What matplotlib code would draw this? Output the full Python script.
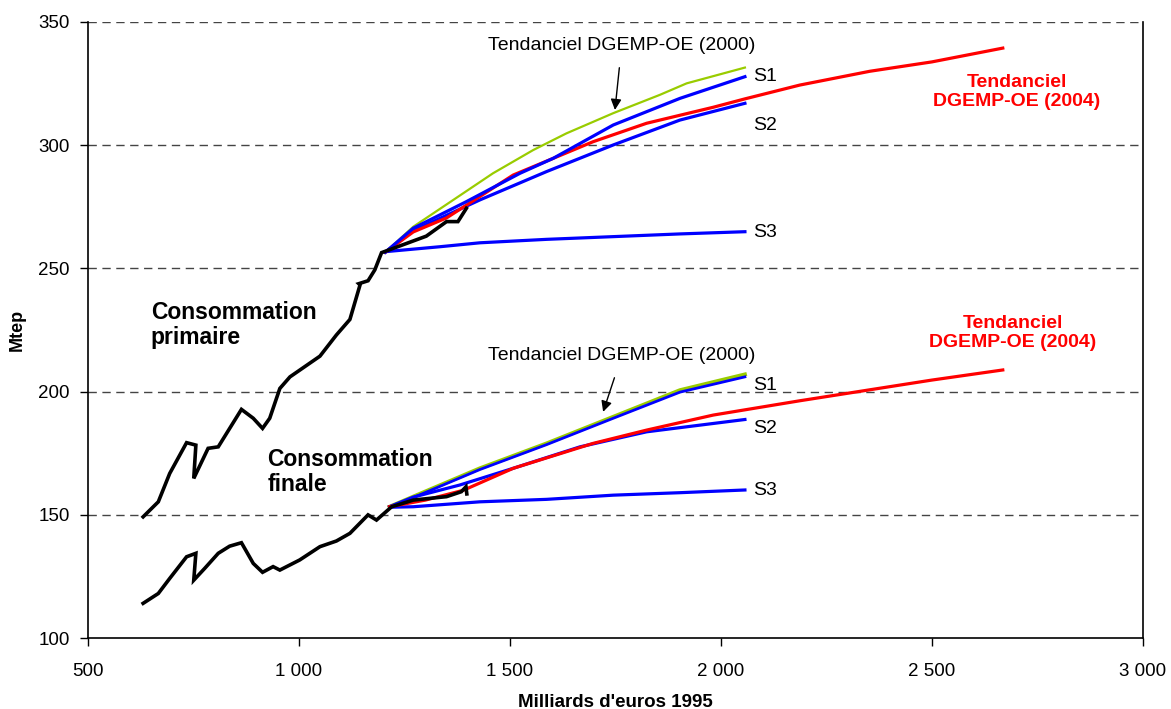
import matplotlib
matplotlib.use("Agg")
import matplotlib.pyplot as plt
from matplotlib.ticker import FuncFormatter

plt.rcParams['font.family'] = ['Liberation Sans', 'DejaVu Sans']

# historique (PIB en Md euros 1995, Mtep)
hist_prim_x = [631, 667, 694, 734, 756, 751, 785, 809, 864, 892, 914, 931, 955, 979,
               1050, 1089, 1121, 1145, 1142, 1164, 1180, 1196, 1223, 1302, 1350, 1377, 1397]
hist_prim_y = [149.2, 155.3, 166.8, 179.3, 178.3, 164.8, 177.0, 177.6, 192.8, 189.2, 185.1, 189.2,
               201.3, 206.0, 214.4, 223.0, 229.3, 243.3, 243.8, 245.0, 249.4, 256.4, 258.1,
               263.1, 269.0, 269.0, 274.4]
hist_fin_x = [631, 667, 694, 734, 756, 751, 777, 809, 836, 864, 892, 914, 939, 955, 1002,
              1050, 1089, 1121, 1164, 1184, 1220, 1271, 1350, 1385, 1396, 1398]
hist_fin_y = [114.1, 118.1, 124.2, 133.0, 134.4, 123.5, 128.3, 134.4, 137.3, 138.7, 130.3, 126.7,
              129.0, 127.6, 131.7, 137.1, 139.4, 142.5, 150.0, 147.9, 153.3, 156.0, 157.4,
              159.4, 161.4, 158.5]

# projections - consommation primaire
p_tend2000_x = [1205, 1271, 1366, 1460, 1555, 1634, 1745, 1855, 1919, 2057]
p_tend2000_y = [256.6, 266.9, 277.8, 288.6, 298.0, 304.8, 313.0, 320.4, 325.1, 331.5]
p_s1_x = [1205, 1271, 1397, 1524, 1603, 1745, 1903, 2057]
p_s1_y = [256.6, 266.3, 277.1, 288.6, 294.7, 308.2, 319.0, 327.8]
p_s2_x = [1205, 1271, 1429, 1587, 1745, 1903, 2057]
p_s2_y = [256.6, 265.3, 277.8, 289.3, 300.1, 310.2, 317.0]
p_s3_x = [1205, 1334, 1429, 1587, 1745, 1903, 2057]
p_s3_y = [256.8, 258.8, 260.4, 261.8, 262.9, 264.0, 264.9]
p_tend2004_x = [1205, 1271, 1350, 1508, 1697, 1824, 1982, 2057, 2187, 2353, 2500, 2668]
p_tend2004_y = [256.6, 264.8, 270.5, 287.9, 301.4, 308.9, 315.4, 318.8, 324.4, 330.0, 333.8, 339.4]

# projections - consommation finale
f_tend2000_x = [1215, 1271, 1429, 1587, 1745, 1903, 2057]
f_tend2000_y = [153.3, 157.4, 168.9, 179.0, 189.8, 200.6, 207.0]
f_s1_x = [1215, 1271, 1429, 1587, 1745, 1903, 2057]
f_s1_y = [153.3, 157.0, 168.4, 178.5, 189.2, 199.8, 206.0]
f_s2_x = [1215, 1271, 1381, 1508, 1666, 1824, 2057]
f_s2_y = [153.3, 157.2, 162.1, 168.9, 177.6, 183.7, 188.7]
f_s3_x = [1215, 1271, 1429, 1587, 1745, 1903, 2057]
f_s3_y = [153.1, 153.3, 155.3, 156.3, 158.0, 159.0, 160.1]
f_tend2004_x = [1215, 1300, 1390, 1508, 1697, 1824, 1982, 2187, 2500, 2668]
f_tend2004_y = [153.3, 156.0, 160.0, 168.9, 179.0, 184.4, 190.5, 196.3, 204.7, 208.8]

BLUE = '#0000ff'
RED = '#ff0000'
GREEN = '#99cc00'

fig = plt.figure(figsize=(11.71, 7.09), dpi=100)
ax = fig.add_axes([0.075, 0.1, 0.901, 0.869])

for y in [150, 200, 250, 300, 350]:
    ax.axhline(y, color='#444444', lw=1.0, ls=(0, (6, 4)), zorder=0)

ax.plot(p_tend2000_x, p_tend2000_y, color=GREEN, lw=1.6)
ax.plot(p_s3_x, p_s3_y, color=BLUE, lw=2.3)
ax.plot(p_s2_x, p_s2_y, color=BLUE, lw=2.3)
ax.plot(p_tend2004_x, p_tend2004_y, color=RED, lw=2.3)
ax.plot(p_s1_x, p_s1_y, color=BLUE, lw=2.3)

ax.plot(f_tend2000_x, f_tend2000_y, color=GREEN, lw=2.8)
ax.plot(f_s1_x, f_s1_y, color=BLUE, lw=2.0)
ax.plot(f_s3_x, f_s3_y, color=BLUE, lw=2.3)
ax.plot(f_s2_x, f_s2_y, color=BLUE, lw=2.3)
ax.plot(f_tend2004_x, f_tend2004_y, color=RED, lw=2.3)

ax.plot(hist_prim_x, hist_prim_y, color='black', lw=2.6, solid_joinstyle='miter')
ax.plot(hist_fin_x, hist_fin_y, color='black', lw=2.6, solid_joinstyle='miter')

# annotations
ax.annotate('Tendanciel DGEMP-OE (2000)', xy=(1749, 314.3), xytext=(1765, 340.5),
            ha='center', va='center', fontsize=14,
            arrowprops=dict(arrowstyle='-|>', color='black', lw=1, mutation_scale=16,
                            shrinkA=8, shrinkB=0))
ax.annotate('Tendanciel DGEMP-OE (2000)', xy=(1721, 191.8), xytext=(1765, 214.5),
            ha='center', va='center', fontsize=14,
            arrowprops=dict(arrowstyle='-|>', color='black', lw=1, mutation_scale=16,
                            shrinkA=8, shrinkB=0))

for lbl, y in [('S1', 327.7), ('S2', 307.8), ('S3', 264.4),
               ('S1', 202.3), ('S2', 185.2), ('S3', 159.7)]:
    ax.text(2076, y, lbl, fontsize=14, va='center', ha='left')

ax.text(2701, 321.6, 'Tendanciel\nDGEMP-OE (2004)', color=RED, fontsize=14,
        fontweight='bold', ha='center', va='center', linespacing=1.2)
ax.text(2692, 223.8, 'Tendanciel\nDGEMP-OE (2004)', color=RED, fontsize=14,
        fontweight='bold', ha='center', va='center', linespacing=1.2)

ax.text(649, 227, 'Consommation\nprimaire', fontsize=16.5, fontweight='bold',
        ha='left', va='center', linespacing=1.15)
ax.text(926, 167.4, 'Consommation\nfinale', fontsize=16.5, fontweight='bold',
        ha='left', va='center', linespacing=1.15)

ax.set_xlim(500, 3000)
ax.set_ylim(100, 350)
ax.set_xticks([500, 1000, 1500, 2000, 2500, 3000])
ax.set_yticks([100, 150, 200, 250, 300, 350])
ax.xaxis.set_major_formatter(FuncFormatter(lambda v, p: f"{int(v):,}".replace(',', ' ')))
ax.tick_params(axis='both', labelsize=13.5, direction='out', length=6, width=1)
ax.tick_params(axis='x', pad=12)
ax.tick_params(axis='y', pad=7)

ax.spines['top'].set_visible(False)
for s in ['left', 'bottom', 'right']:
    ax.spines[s].set_linewidth(1.2)

ax.set_xlabel("Milliards d'euros 1995", fontsize=13.5, fontweight='bold', labelpad=10)
ax.set_ylabel('Mtep', fontsize=13, fontweight='bold', labelpad=9)

fig.savefig('out.png', dpi=100)
